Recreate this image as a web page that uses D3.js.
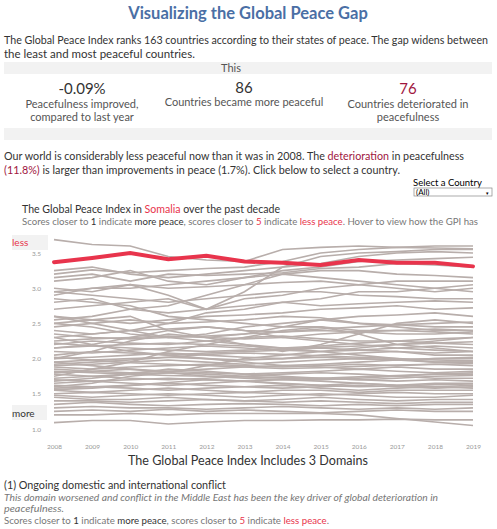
<!DOCTYPE html>
<html>
<head>
<meta charset="utf-8">
<style>
body { margin:0; background:#fff; font-family: Lato, "Open Sans", sans-serif; }
svg text { font-family: Lato, "Open Sans", sans-serif; }
</style>
</head>
<body>
<svg width="497" height="529"></svg>
<script src="https://cdn.jsdelivr.net/npm/d3@7"></script>
<script>
var years = [2008,2009,2010,2011,2012,2013,2014,2015,2016,2017,2018,2019]
var yTicks = [1.0,1.5,2.0,2.5,3.0,3.5]
var somalia = [3.37,3.43,3.50,3.41,3.46,3.38,3.36,3.33,3.40,3.36,3.36,3.31]
// other countries (scores, approximate)
var others = [
 [3.69,3.62,3.60,3.45,3.40,3.38,3.55,3.58,3.60,3.58,3.57,3.56],
 [3.20,3.26,3.22,3.25,3.28,3.30,3.38,3.50,3.55,3.58,3.60,3.60],
 [2.95,3.00,3.05,2.90,2.70,2.95,3.30,3.45,3.50,3.52,3.55,3.55],
 [3.25,3.30,3.20,3.15,3.20,3.25,3.30,3.35,3.45,3.50,3.52,3.50],
 [3.10,3.15,3.25,3.10,3.05,3.15,3.25,3.30,3.38,3.40,3.42,3.44],
 [3.15,3.20,3.10,3.20,3.18,3.20,3.22,3.28,3.30,3.35,3.33,3.30],
 [2.90,3.00,3.00,3.05,3.10,3.15,3.20,3.25,3.25,3.20,3.18,3.15],
 [3.00,2.95,3.05,3.00,3.02,3.05,3.08,3.10,3.05,3.10,3.10,3.10],
 [2.55,2.60,2.70,2.75,2.90,3.05,3.20,3.15,3.10,3.05,3.00,2.95],
 [2.70,2.75,2.80,2.85,2.70,2.85,2.90,3.00,3.05,3.00,2.95,3.00],
 [2.95,2.90,2.85,2.80,2.85,2.90,2.95,2.95,2.90,2.88,2.85,2.85],
 [2.30,2.35,2.40,2.50,2.65,2.70,2.80,2.85,2.95,2.95,3.00,3.05],
 [2.80,2.85,2.70,2.65,2.70,2.75,2.80,2.75,2.78,2.80,2.82,2.80],
 [2.60,2.55,2.50,2.55,2.60,2.62,2.65,2.70,2.72,2.75,2.70,2.72],
 [2.50,2.55,2.60,2.40,2.30,2.35,2.45,2.55,2.60,2.62,2.65,2.60],
 [2.45,2.50,2.55,2.50,2.52,2.55,2.60,2.58,2.50,2.48,2.50,2.52],
 [2.40,2.35,2.40,2.42,2.45,2.40,2.38,2.42,2.45,2.48,2.45,2.45],
 [2.35,2.30,2.28,2.30,2.32,2.35,2.38,2.40,2.38,2.35,2.35,2.38],
 [2.25,2.28,2.30,2.32,2.30,2.28,2.30,2.35,2.38,2.40,2.42,2.40],
 [2.20,2.25,2.22,2.20,2.25,2.30,2.32,2.28,2.25,2.25,2.28,2.30],
 [2.15,2.18,2.20,2.22,2.20,2.18,2.15,2.18,2.22,2.25,2.22,2.20],
 [2.10,2.08,2.12,2.15,2.18,2.15,2.12,2.10,2.12,2.15,2.18,2.15],
 [2.05,2.10,2.08,2.05,2.08,2.10,2.12,2.15,2.12,2.10,2.08,2.10],
 [2.00,2.02,2.05,2.08,2.05,2.02,2.00,2.05,2.08,2.10,2.05,2.05],
 [1.95,1.98,2.00,2.02,2.00,1.98,2.00,2.02,2.00,1.98,2.00,2.02],
 [1.90,1.92,1.95,1.98,1.95,1.92,1.95,1.98,2.00,1.98,1.95,1.95],
 [1.88,1.85,1.88,1.90,1.92,1.90,1.88,1.90,1.92,1.90,1.92,1.90],
 [1.85,1.82,1.80,1.82,1.85,1.88,1.90,1.88,1.85,1.88,1.85,1.85],
 [1.80,1.82,1.85,1.82,1.80,1.78,1.80,1.82,1.85,1.82,1.80,1.82],
 [1.78,1.75,1.78,1.80,1.78,1.75,1.78,1.80,1.78,1.75,1.78,1.78],
 [1.72,1.75,1.72,1.70,1.72,1.75,1.72,1.70,1.72,1.75,1.72,1.72],
 [1.70,1.68,1.70,1.72,1.70,1.68,1.70,1.72,1.70,1.68,1.70,1.68],
 [1.65,1.68,1.65,1.62,1.65,1.68,1.65,1.62,1.65,1.62,1.65,1.65],
 [1.62,1.60,1.62,1.65,1.62,1.60,1.58,1.60,1.62,1.60,1.58,1.60],
 [1.58,1.60,1.58,1.55,1.58,1.60,1.62,1.58,1.55,1.58,1.60,1.58],
 [1.55,1.52,1.55,1.58,1.55,1.52,1.55,1.55,1.52,1.55,1.55,1.55],
 [1.50,1.52,1.50,1.48,1.50,1.52,1.50,1.48,1.50,1.52,1.50,1.50],
 [1.48,1.45,1.48,1.50,1.48,1.45,1.48,1.50,1.48,1.45,1.45,1.48],
 [1.45,1.42,1.42,1.45,1.42,1.40,1.42,1.45,1.42,1.40,1.42,1.42],
 [1.40,1.40,1.38,1.40,1.42,1.40,1.38,1.40,1.38,1.36,1.38,1.38],
 [1.35,1.38,1.35,1.33,1.35,1.36,1.35,1.33,1.35,1.33,1.35,1.35],
 [1.30,1.32,1.30,1.30,1.28,1.30,1.32,1.30,1.28,1.30,1.28,1.30],
 [1.25,1.27,1.25,1.28,1.25,1.27,1.25,1.23,1.25,1.27,1.25,1.25],
 [1.09,1.12,1.12,1.07,1.10,1.12,1.12,1.13,1.13,1.14,1.13,1.13],
 [1.20,1.20,1.22,1.20,1.22,1.22,1.22,1.22,1.20,1.15,1.10,1.05],
 [2.00,2.10,2.25,2.35,2.30,2.20,2.10,2.20,2.35,2.50,2.55,2.50],
 [1.75,1.85,1.95,2.10,2.20,2.30,2.40,2.45,2.35,2.20,2.15,2.10],
 [2.60,2.50,2.40,2.30,2.25,2.20,2.15,2.10,2.05,2.00,1.95,1.95],
 [1.60,1.65,1.75,1.80,1.90,2.00,2.05,2.10,2.15,2.20,2.25,2.30],
 [2.85,2.80,2.75,2.60,2.55,2.50,2.45,2.45,2.40,2.40,2.38,2.35],
 [1.95,1.90,1.85,1.80,1.75,1.72,1.70,1.68,1.65,1.62,1.60,1.62],
 [2.30,2.20,2.10,2.05,2.00,1.95,1.90,1.92,1.95,1.98,2.00,2.00],
 [2.15,2.20,2.30,2.40,2.45,2.40,2.30,2.25,2.20,2.15,2.12,2.10],
 [1.68,1.72,1.78,1.85,1.82,1.78,1.75,1.72,1.70,1.72,1.75,1.76],
 [2.50,2.45,2.35,2.30,2.35,2.45,2.50,2.55,2.50,2.45,2.40,2.40],
 [1.82,1.80,1.78,1.76,1.75,1.74,1.73,1.72,1.74,1.76,1.78,1.80],
 [1.56,1.58,1.62,1.66,1.70,1.68,1.64,1.62,1.60,1.61,1.63,1.64],
 [2.02,1.98,1.94,1.92,1.90,1.88,1.86,1.87,1.89,1.91,1.92,1.93],
 [2.22,2.18,2.15,2.12,2.10,2.12,2.14,2.16,2.18,2.20,2.22,2.24],
 [1.92,1.95,1.98,2.02,2.06,2.08,2.06,2.04,2.02,2.00,1.98,1.97]
]

var svg = d3.select("svg")
var blue = "#4a6fa5", red = "#e8344c", dark = "#333", grey = "#555"

svg.append("text").attr("x", 248).attr("y", 19).attr("text-anchor","middle")
  .attr("font-size", 16.5).attr("font-weight","bold").attr("fill", blue)
  .text("Visualizing the Global Peace Gap")

function para(x, y, size, lines, opts) {
  opts = opts || {}
  lines.forEach(function(parts, i) {
    var t = svg.append("text").attr("x", x).attr("y", y + i*(opts.lh||14))
      .attr("font-size", size).attr("fill", opts.fill || dark)
      .attr("font-style", opts.italic ? "italic" : null)
    if (opts.len && opts.len[i]) t.attr("textLength", opts.len[i]).attr("lengthAdjust","spacingAndGlyphs")
    if (typeof parts === "string") parts = [[parts]]
    parts.forEach(function(p) { t.append("tspan").attr("fill", p[1] || null).text(p[0]) })
  })
}
para(4, 44, 11.5, ["The Global Peace Index ranks 163 countries according to their states of peace. The gap widens between",
  "the least and most peaceful countries."], {len:[484]})

svg.append("rect").attr("x",4).attr("y",62).attr("width",488).attr("height",12).attr("fill","#f2f2f2")
svg.append("rect").attr("x",4).attr("y",128).attr("width",488).attr("height",12).attr("fill","#f2f2f2")
svg.append("text").attr("x",231).attr("y",72).attr("text-anchor","middle").attr("font-size",11).attr("fill",grey).text("This")

var kpis = [["-0.09%", "#333", ["Peacefulness improved,","compared to last year"], 82],
            ["86", "#333", ["Countries became more peaceful"], 244],
            ["76", "#a0153e", ["Countries deteriorated in","peacefulness"], 408]]
kpis.forEach(function(k, i) {
  svg.append("text").attr("x",k[3]).attr("y", i==1 ? 93 : 94).attr("text-anchor","middle")
    .attr("font-size",15).attr("fill",k[1]).text(k[0])
  k[2].forEach(function(l, j) {
    svg.append("text").attr("x",k[3]).attr("y",(i==1?106:108)+j*13).attr("text-anchor","middle")
      .attr("font-size",11).attr("fill",grey).text(l)
  })
})

para(4, 160, 11.5, [[["Our world is considerably less peaceful now than it was in 2008. The "],["deterioration","#a0153e"],[" in peacefulness"]],
  [["(11.8%)","#a0153e"],[" is larger than improvements in peace (1.7%). Click below to select a country."]]], {len:[460, 396]})

svg.append("text").attr("x",413).attr("y",186).attr("font-size",9.5).attr("fill","#000").text("Select a Country")
svg.append("rect").attr("x",414).attr("y",188).attr("width",78).attr("height",8).attr("fill","#fff").attr("stroke","#888").attr("stroke-width",0.7)
svg.append("text").attr("x",416).attr("y",195).attr("font-size",8).attr("fill","#000").text("(All)")
svg.append("text").attr("x",487).attr("y",194.5).attr("font-size",5).attr("fill","#000").attr("text-anchor","middle").text("▾")

para(22, 213, 10.5, [[["The Global Peace Index in "],["Somalia",red],[" over the past decade"]]], {len:[258]})
para(22, 225, 10, [[["Scores  closer to "],["1","#333"],[" indicate "],["more peace","#333"],[", scores closer to "],["5",red],[" indicate "],["less peace",red],[". Hover to view how the GPI has"]]], {fill:"#777", len:[456]})
svg.append("rect").attr("x",0).attr("y",228).attr("width",497).attr("height",5).attr("fill","#fff")

var x = d3.scalePoint().domain(years).range([54, 473])
var y = d3.scaleLinear().domain([1, 3.5]).range([429, 253])

svg.append("g").attr("transform","translate(0,441)")
  .call(d3.axisBottom(x).tickSize(0).tickFormat(d3.format("d")))
  .call(function(g){ g.select(".domain").remove(); g.selectAll("text").attr("font-size",6.5).attr("fill","#999") })
svg.append("g").attr("transform","translate(44,0)")
  .call(d3.axisLeft(y).tickValues(yTicks).tickSize(0).tickFormat(d3.format(".1f")))
  .call(function(g){ g.select(".domain").remove(); g.selectAll("text").attr("font-size",6.5).attr("fill","#999") })

var line = d3.line().x(function(d,i){ return x(years[i]) }).y(function(d){ return y(d) })
svg.append("g").selectAll("path").data(others).join("path")
  .attr("d", line).attr("fill","none").attr("stroke","#b8aeab").attr("stroke-width",1.6)
svg.append("path").datum(somalia).attr("d", line).attr("fill","none")
  .attr("stroke",red).attr("stroke-width",4).attr("stroke-linecap","round")

svg.append("rect").attr("x",12).attr("y",235).attr("width",36).attr("height",15).attr("fill","#f2f2f2")
svg.append("text").attr("x",12).attr("y",246).attr("font-size",10).attr("fill",red).text("less")
svg.append("rect").attr("x",12).attr("y",405).attr("width",35).attr("height",15).attr("fill","#f2f2f2")
svg.append("text").attr("x",12).attr("y",417).attr("font-size",10).attr("fill",dark).text("more")

svg.append("text").attr("x",248).attr("y",465).attr("text-anchor","middle").attr("font-size",12.5).attr("fill",dark)
  .attr("textLength",240).attr("lengthAdjust","spacingAndGlyphs")
  .text("The Global Peace Index Includes 3 Domains")
para(4, 489, 11, ["(1) Ongoing domestic and international conflict"], {len:[222]})
para(4, 501, 10, ["This domain worsened and conflict in the Middle East has been the key driver of global deterioration in",
  "peacefulness."], {fill:"#777", italic:true, lh:11, len:[434, 60]})
para(4, 524, 10, [[["Scores  closer to "],["1","#333"],[" indicate "],["more peace","#333"],[", scores closer to "],["5",red],[" indicate "],["less peace",red],["."]]], {fill:"#777", len:[325]})
</script>
</body>
</html>
